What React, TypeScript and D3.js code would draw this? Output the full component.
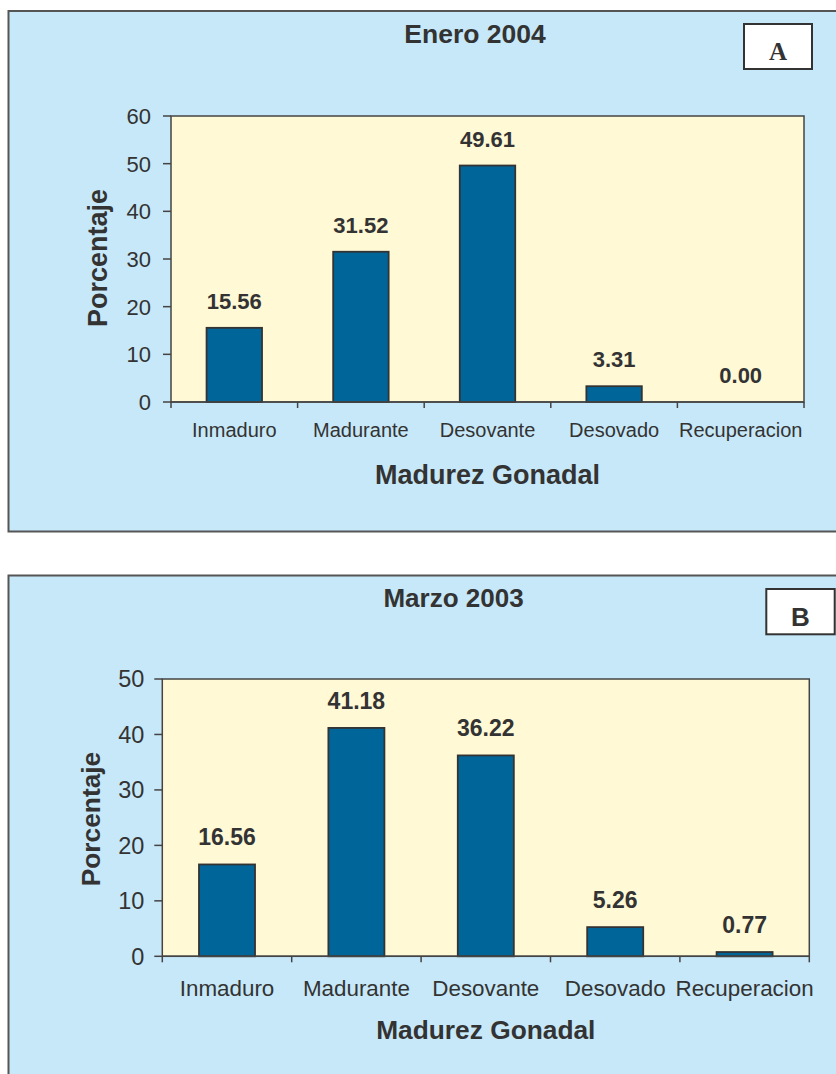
import React from "react";
import * as d3 from "d3";

const categories = ["Inmaduro", "Madurante", "Desovante", "Desovado", "Recuperacion"];
const valuesEnero2004 = [15.56, 31.52, 49.61, 3.31, 0.0];
const valuesMarzo2003 = [16.56, 41.18, 36.22, 5.26, 0.77];
const ticksEnero = [0, 10, 20, 30, 40, 50, 60];
const ticksMarzo = [0, 10, 20, 30, 40, 50];
const titleA = "Enero 2004";
const titleB = "Marzo 2003";
const yTitle = "Porcentaje";
const xTitle = "Madurez Gonadal";

const SANS = "'Liberation Sans', Arial, Helvetica, sans-serif";
const TXT = "#333333";

type PanelProps = {
  values: number[];
  ticks: number[];
  title: string;
  letter: string;
  letterFont: string;
  panelY: number;
  panelH: number;
  plot: { x0: number; x1: number; y0: number; y1: number };
  pad: number;
  fs: { tick: number; cat: number; val: number; axis: number; title: number; letter: number };
  titlePos: { x: number; y: number };
  yTitlePos: { x: number; y: number };
  xTitleY: number;
  catY: number;
  box: { x: number; y: number; w: number; h: number; ty: number };
  tickGap: number;
};

function Panel(p: PanelProps) {
  const { plot } = p;
  const x = d3
    .scaleBand<string>()
    .domain(categories)
    .range([plot.x0, plot.x1])
    .paddingInner(p.pad)
    .paddingOuter(p.pad / 2);
  const y = d3
    .scaleLinear()
    .domain([p.ticks[0], p.ticks[p.ticks.length - 1]])
    .range([plot.y1, plot.y0]);
  const step = x.step();
  const bounds = d3.range(categories.length + 1).map((i) => plot.x0 + i * step);

  return (
    <g>
      <rect x={8.5} y={p.panelY} width={900} height={p.panelH} fill="#C7E8F8" stroke="#555" strokeWidth={2} />
      <text x={p.titlePos.x} y={p.titlePos.y} textAnchor="middle" fontFamily={SANS} fontWeight="bold" fontSize={p.fs.title} fill={TXT}>
        {p.title}
      </text>
      <rect x={p.box.x} y={p.box.y} width={p.box.w} height={p.box.h} fill="#ffffff" stroke="#333" strokeWidth={2} />
      <text x={p.box.x + p.box.w / 2} y={p.box.ty} textAnchor="middle" fontFamily={p.letterFont} fontWeight="bold" fontSize={p.fs.letter} fill={TXT}>
        {p.letter}
      </text>
      <rect x={plot.x0} y={plot.y0} width={plot.x1 - plot.x0} height={plot.y1 - plot.y0} fill="#FFF9D6" stroke="#444" strokeWidth={1.5} />
      {p.ticks.map((t) => (
        <g key={t}>
          <line x1={plot.x0 - 8} x2={plot.x0} y1={y(t)} y2={y(t)} stroke="#444" strokeWidth={1.5} />
          <text x={plot.x0 - 8 - p.tickGap} y={y(t)} dy="0.36em" textAnchor="end" fontFamily={SANS} fontSize={p.fs.tick} fill={TXT}>
            {t}
          </text>
        </g>
      ))}
      {categories.map((c, i) => {
        const v = p.values[i];
        const bx = x(c) as number;
        const top = y(v);
        return (
          <g key={c}>
            {v > 0 && (
              <rect x={bx} y={top} width={x.bandwidth()} height={y(0) - top} fill="#006699" stroke="#333" strokeWidth={1.8} />
            )}
            <text x={bx + x.bandwidth() / 2} y={top - 19} textAnchor="middle" fontFamily={SANS} fontWeight="bold" fontSize={p.fs.val} fill={TXT}>
              {v.toFixed(2)}
            </text>
            <text x={bx + x.bandwidth() / 2} y={p.catY} textAnchor="middle" fontFamily={SANS} fontSize={p.fs.cat} fill={TXT}>
              {c}
            </text>
          </g>
        );
      })}
      <line x1={plot.x0} x2={plot.x1} y1={plot.y1} y2={plot.y1} stroke="#444" strokeWidth={1.5} />
      {bounds.map((bx, i) => (
        <line key={i} x1={bx} x2={bx} y1={plot.y1} y2={plot.y1 + 6} stroke="#444" strokeWidth={1.5} />
      ))}
      <text
        transform={`translate(${p.yTitlePos.x},${p.yTitlePos.y}) rotate(-90)`}
        textAnchor="middle"
        fontFamily={SANS}
        fontWeight="bold"
        fontSize={p.fs.axis}
        fill={TXT}
      >
        {yTitle}
      </text>
      <text x={(plot.x0 + plot.x1) / 2} y={p.xTitleY} textAnchor="middle" fontFamily={SANS} fontWeight="bold" fontSize={p.fs.axis} fill={TXT}>
        {xTitle}
      </text>
    </g>
  );
}

export default function App() {
  return (
    <svg width={836} height={1074} style={{ position: "absolute", left: 0, top: 0, background: "#ffffff" }}>
      <Panel
        values={valuesEnero2004}
        ticks={ticksEnero}
        title={titleA}
        letter="A"
        letterFont="'Liberation Serif', 'Times New Roman', serif"
        panelY={11}
        panelH={520.5}
        plot={{ x0: 171, x1: 804, y0: 116, y1: 402 }}
        pad={0.562}
        fs={{ tick: 22, cat: 20, val: 22, axis: 27, title: 26.5, letter: 25 }}
        titlePos={{ x: 475, y: 43 }}
        yTitlePos={{ x: 106.5, y: 258 }}
        xTitleY={484}
        catY={437}
        box={{ x: 744, y: 24, w: 68, h: 45, ty: 60 }}
        tickGap={12}
      />
      <Panel
        values={valuesMarzo2003}
        ticks={ticksMarzo}
        title={titleB}
        letter="B"
        letterFont={SANS}
        panelY={575.5}
        panelH={600}
        plot={{ x0: 162.3, x1: 809.3, y0: 679, y1: 956.3 }}
        pad={0.567}
        fs={{ tick: 23.5, cat: 22.4, val: 23, axis: 26.3, title: 26, letter: 26 }}
        titlePos={{ x: 453.5, y: 607 }}
        yTitlePos={{ x: 100, y: 819 }}
        xTitleY={1039}
        catY={996}
        box={{ x: 766.3, y: 589, w: 68.4, h: 45.3, ty: 625.5 }}
        tickGap={10}
      />
    </svg>
  );
}
